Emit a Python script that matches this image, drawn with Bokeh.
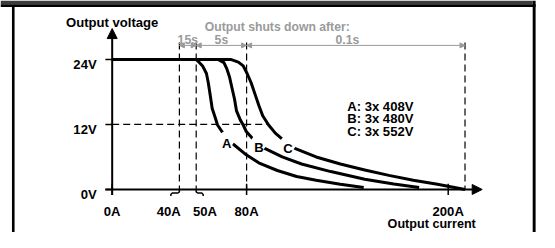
import numpy as np
from bokeh.plotting import figure
from bokeh.models import Range1d, Arrow, NormalHead
from bokeh.core.properties import value
from bokeh.embed import file_html
from bokeh.resources import INLINE

# ---------------- data ----------------
# output current [A] / output voltage [V] for the three input voltages
curve_a_i = [0, 50, 51, 53.8, 56.1, 57.2, 58.4, 59.5, 61.3, 62.7, 65.3, 68.2, 72.3, 79.8, 87.9, 98.3, 109.8, 121.4, 135.8, 149.7]
curve_a_v = [24, 24, 23.7, 22.8, 21.4, 19.7, 17.3, 15.0, 13.3, 11.9, 10.7, 9.5, 8.3, 6.4, 4.8, 3.5, 2.4, 1.7, 0.95, 0.35]
curve_b_i = [0, 63, 66.5, 68.2, 69.9, 71.1, 72.8, 74.0, 76.3, 78.0, 79.8, 83.8, 90.8, 101.2, 112.7, 130.1, 150.3, 167.6, 182.7]
curve_b_v = [24, 24, 23.4, 22.3, 20.7, 19.0, 16.7, 14.5, 12.8, 11.9, 10.7, 9.3, 7.6, 6.0, 4.7, 3.3, 1.9, 1.0, 0.35]
curve_c_i = [0, 70.5, 75.1, 78.0, 80.3, 82.7, 85.0, 87.3, 89.6, 93.1, 97.1, 102.3, 108.7, 121.4, 135.8, 150.3, 164.7, 179.2, 193.6, 210]
curve_c_v = [24, 24, 23.5, 22.8, 21.4, 19.7, 17.6, 15.5, 13.6, 11.9, 10.4, 9.0, 7.6, 6.0, 4.7, 3.6, 2.6, 1.7, 0.95, 0.0]
curve_names = ["A", "B", "C"]
legend_lines = ["A: 3x 408V", "B: 3x 480V", "C: 3x 552V"]

x_tick_values = [0, 40, 50, 80, 200]
x_tick_labels = ["0A", "40A", "50A", "80A", "200A"]
y_tick_values = [0, 12, 24]
y_tick_labels = ["0V", "12V", "24V"]

shutdown_bounds = [40, 50, 80, 210]
shutdown_times = ["15s", "5s", "0.1s"]
shutdown_title = "Output shuts down after:"
x_title = "Output current"
y_title = "Output voltage"

# ---------------- layout / style ----------------
W, H = 539, 232            # canvas that fits the 555x248 window with its 8px margin
REF_W, REF_H = 555, 248    # layout is designed on the reference grid and scaled to the canvas
SCALE = min(W / REF_W, H / REF_H)
PX_PER_A = 1.73            # reference pixels per ampere
PX_PER_V = 69.5 / 12       # reference pixels per volt
ORIGIN_RX, ORIGIN_RY = 115, 202   # reference pixel of (0 A, 0 V)

def wx(px):
    return (px - ORIGIN_RX) / PX_PER_A

def wy(py):
    return (ORIGIN_RY - py) / PX_PER_V

def dx(px):
    return px / PX_PER_A

def dy(px):
    return px / PX_PER_V

def fs(px):
    return f"{px * SCALE:.1f}px"

x_range = Range1d(wx(0), wx(REF_W))
y_range = Range1d(wy(REF_H), wy(0))

FONT = value("Liberation Sans")
GRAY = "#9a9a9a"

p = figure(width=W, height=H, x_range=x_range, y_range=y_range,
           x_axis_type=None, y_axis_type=None, toolbar_location=None,
           output_backend="svg", min_border=0, outline_line_color=None,
           background_fill_color="white", border_fill_color="white")

# frame decoration: header strip and side borders
p.quad(left=x_range.start, right=wx(548), top=y_range.end, bottom=wy(4),
       color="#3c3c3c", line_width=0)
p.quad(left=x_range.start, right=wx(551), top=wy(4), bottom=wy(7),
       color="black", line_width=0)
p.quad(left=wx(11.8), right=wx(14.5), top=wy(6), bottom=y_range.start,
       color="black", line_width=0)
p.quad(left=wx(548), right=wx(551), top=y_range.end, bottom=y_range.start,
       color="black", line_width=0)

# shutdown dashed verticals
top_v = wy(45)
p.segment(x0=shutdown_bounds, y0=[top_v] * len(shutdown_bounds), x1=shutdown_bounds,
          y1=[0] * len(shutdown_bounds), line_color="black", line_width=1.2, line_dash="7 4")

# 12 V dashed horizontal up to curve C
c_at_12 = float(np.interp(12, curve_c_v[::-1], curve_c_i[::-1]))
p.segment(x0=[0], y0=[12], x1=[c_at_12], y1=[12], line_color="black", line_width=1.2, line_dash="7 4")

# shutdown dimension arrows
dim_v = wy(48)
for a, b in zip(shutdown_bounds[:-1], shutdown_bounds[1:]):
    p.add_layout(Arrow(start=NormalHead(size=5, fill_color=GRAY, line_color=GRAY),
                       end=NormalHead(size=5, fill_color=GRAY, line_color=GRAY),
                       x_start=a, y_start=dim_v, x_end=b, y_end=dim_v,
                       line_color=GRAY, line_width=1))
time_label_x = [45, 65, 140]
p.text(x=time_label_x, y=[wy(41.7)] * 3, text=shutdown_times, text_align="center",
       text_baseline="alphabetic", text_font=FONT, text_font_style="bold",
       text_font_size=fs(13), text_color=GRAY)
p.text(x=[wx(285)], y=[wy(28.5)], text=[shutdown_title], text_align="center",
       text_baseline="alphabetic", text_font=FONT, text_font_style="bold",
       text_font_size=fs(13), text_color=GRAY)

# curves
for ci, cv in [(curve_a_i, curve_a_v), (curve_b_i, curve_b_v), (curve_c_i, curve_c_v)]:
    p.line(ci, cv, line_color="black", line_width=3, line_join="round")

# curve labels with white knock-out
name_x = [68.2, 87.3, 104.6]
name_y = [9.32, 8.63, 8.46]
p.scatter(name_x, name_y, size=16, color="white", line_width=0)
p.text(x=name_x, y=[v - dy(5) for v in name_y], text=curve_names, text_align="center",
       text_baseline="alphabetic", text_font=FONT, text_font_style="bold",
       text_font_size=fs(14), text_color="black")

# legend text
leg_y = [wy(108 + 13.5 * k + 5) for k in range(len(legend_lines))]
p.text(x=[wx(357)] * len(legend_lines), y=leg_y, text=legend_lines, text_align="left",
       text_baseline="alphabetic", text_font=FONT, text_font_style="bold",
       text_font_size=fs(14), text_color="black")

# axes with arrows
p.add_layout(Arrow(end=NormalHead(size=10, fill_color="black", line_color="black"),
                   x_start=0, y_start=wy(208), x_end=0, y_end=wy(30),
                   line_color="black", line_width=2))
p.add_layout(Arrow(end=NormalHead(size=10, fill_color="black", line_color="black"),
                   x_start=wx(108), y_start=0, x_end=wx(496), y_end=0,
                   line_color="black", line_width=2))

# y ticks and labels
p.segment(x0=[wx(108)] * 3, y0=y_tick_values, x1=[0] * 3, y1=y_tick_values,
          line_color="black", line_width=1.5)
p.text(x=[wx(99)] * 3, y=[v - dy(5) for v in y_tick_values], text=y_tick_labels,
       text_align="right", text_baseline="alphabetic", text_font=FONT,
       text_font_style="bold", text_font_size=fs(14), text_color="black")

# x ticks, braces and labels
label_offset_px = [0, -11, 9, 0, 0]
straight = [v for v, o in zip(x_tick_values, label_offset_px) if o == 0]
p.segment(x0=straight, y0=[wy(208)] * len(straight), x1=straight, y1=[wy(196)] * len(straight),
          line_color="black", line_width=1.5)
brace_xs, brace_ys = [], []
for v, o in zip(x_tick_values, label_offset_px):
    if o == 0:
        continue
    s = np.sign(o)
    end = v + dx(0.8 * o)
    brace_xs.append([v, v, v + dx(1.5 * s), end - dx(1.5 * s), end, end])
    brace_ys.append([0, wy(204.5), wy(205.8), wy(205.8), wy(207.3), wy(209)])
p.multi_line(brace_xs, brace_ys, line_color="black", line_width=1.5)
p.text(x=[v + dx(o) for v, o in zip(x_tick_values, label_offset_px)],
       y=[wy(225.5)] * len(x_tick_values), text=x_tick_labels, text_align="center",
       text_baseline="alphabetic", text_font=FONT, text_font_style="bold",
       text_font_size=fs(14), text_color="black")

# axis titles
p.text(x=[0], y=[wy(24)], text=[y_title], text_align="center", text_baseline="alphabetic",
       text_font=FONT, text_font_style="bold", text_font_size=fs(14), text_color="black")
p.text(x=[wx(444)], y=[wy(238.5)], text=[x_title], text_align="center", text_baseline="alphabetic",
       text_font=FONT, text_font_style="bold", text_font_size=fs(13.5), text_color="black")

open("out.html", "w").write(file_html(p, INLINE))
